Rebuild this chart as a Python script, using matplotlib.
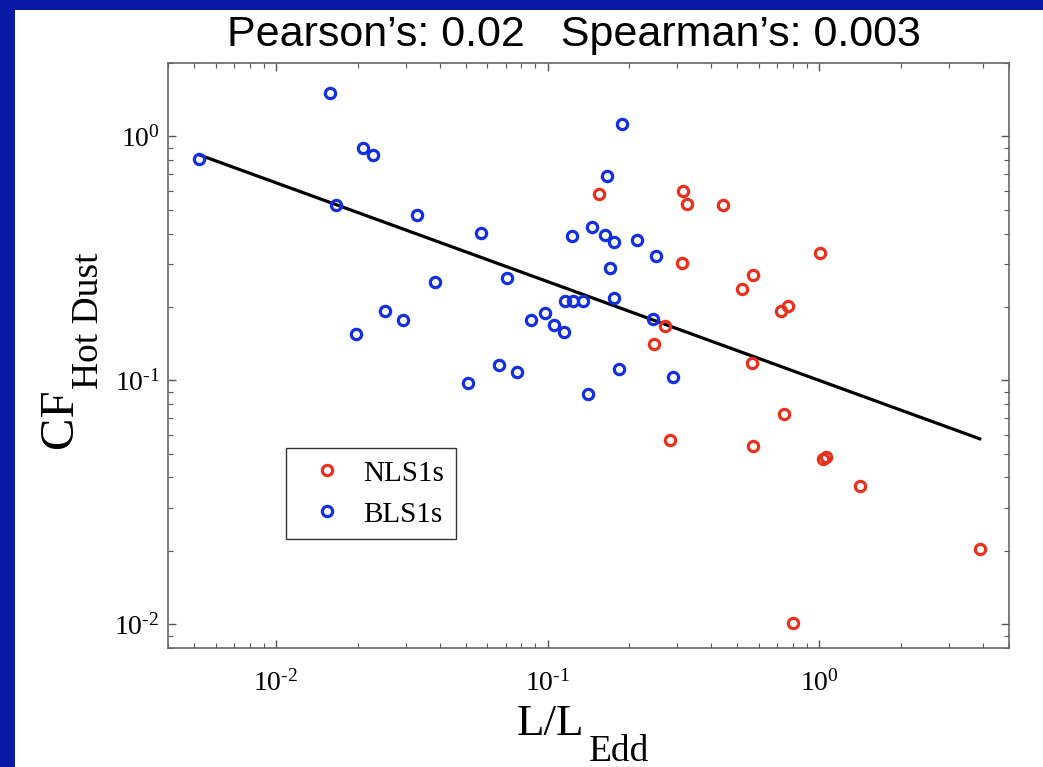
import matplotlib
matplotlib.use('Agg')
import matplotlib.pyplot as plt
from matplotlib.patches import Rectangle
from matplotlib.ticker import LogLocator, FuncFormatter, NullFormatter
import numpy as np

# L/L_Edd and CF for the two samples
bls1_x = [0.01583, 0.02089, 0.02280, 0.005212, 0.01656, 0.03304, 0.05706, 0.03862,
          0.07100, 0.02518, 0.02943, 0.01968, 0.08656, 0.09747, 0.1055, 0.1148,
          0.1155, 0.1244, 0.1354, 0.1229, 0.1462, 0.1623, 0.1752, 0.1694,
          0.1757, 0.1651, 0.1875, 0.2125, 0.2496, 0.2440, 0.05110, 0.06649,
          0.07730, 0.1405, 0.1831, 0.2901]
bls1_y = [1.500, 0.899, 0.836, 0.805, 0.5216, 0.4747, 0.4030, 0.2538,
          0.2619, 0.1930, 0.1767, 0.1554, 0.1767, 0.1882, 0.1680, 0.1578,
          0.2108, 0.2108, 0.2108, 0.3904, 0.4265, 0.3940, 0.3687, 0.2877,
          0.2179, 0.6902, 1.120, 0.3749, 0.3223, 0.1787, 0.0975, 0.1160,
          0.1085, 0.0879, 0.1109, 0.1032]

nls1_x = [0.1551, 0.3148, 0.3249, 0.4434, 1.006, 0.3129, 0.5692, 0.5212,
          0.7667, 0.7222, 0.2696, 0.2461, 0.5644, 0.7409, 0.2827, 0.5692,
          1.037, 1.055, 1.417, 3.917, 0.8018]
nls1_y = [0.5785, 0.5968, 0.5300, 0.5216, 0.3324, 0.3025, 0.2712, 0.2376,
          0.2010, 0.1918, 0.1670, 0.1409, 0.1182, 0.0730, 0.0571, 0.0538,
          0.04746, 0.04851, 0.03702, 0.02043, 0.01009]

# power-law fit: CF = fit_norm * (L/L_Edd)**fit_slope
fit_slope = -0.405
fit_norm = 0.1
fit_range = [0.0052, 3.9]

title_text = 'Pearson\u2019s: 0.02   Spearman\u2019s: 0.003'

red = '#e8301c'
blue = '#1230e0'
slide_blue = '#0a1aa6'

plt.rcParams['font.family'] = 'Liberation Serif'
plt.rcParams['mathtext.fontset'] = 'custom'
plt.rcParams['mathtext.rm'] = 'Liberation Serif'
plt.rcParams['mathtext.it'] = 'Liberation Serif:italic'
plt.rcParams['axes.unicode_minus'] = False

W, H = 1043, 767


def pow10(v, pos):
    e = int(round(np.log10(v)))
    if e < 0:
        return r'$10^{\text{-}%d}$' % (-e)
    return r'$10^{%d}$' % e


def px(x, y):
    # pixel position (from top left) -> figure fraction
    return x / W, 1 - y / H


fig = plt.figure(figsize=(W / 100, H / 100), dpi=100)
fig.patch.set_facecolor(slide_blue)
fig.patches.append(Rectangle((15 / W, 0), 1, 1 - 10 / H, transform=fig.transFigure,
                             facecolor='white', edgecolor='none', zorder=-10))

ax = fig.add_axes([168 / W, 1 - 648 / H, 841 / W, 585 / H])
ax.set_xscale('log')
ax.set_yscale('log')

fx = np.array(fit_range)
ax.plot(fx, fit_norm * fx**fit_slope, color='black', lw=2.3, zorder=2)

hb, = ax.plot(bls1_x, bls1_y, 'o', ms=7.4, mew=2.3, mfc='none', mec=blue, zorder=3)
hn, = ax.plot(nls1_x, nls1_y, 'o', ms=7.4, mew=2.3, mfc='none', mec=red, zorder=3)

ax.set_xlim(0.004, 5)
ax.set_ylim(0.008, 2)

for a in (ax.xaxis, ax.yaxis):
    a.set_major_locator(LogLocator(base=10))
    a.set_minor_locator(LogLocator(base=10, subs=np.arange(2, 10)))
    a.set_major_formatter(FuncFormatter(pow10))
    a.set_minor_formatter(NullFormatter())

ax.tick_params(which='both', direction='in', top=True, right=True, color='#555555')
ax.tick_params(which='major', length=6, width=1, labelsize=20)
ax.tick_params(which='minor', length=3.5, width=0.8)
ax.tick_params(axis='x', which='major', pad=16)
ax.tick_params(axis='y', which='major', pad=6)
for s in ax.spines.values():
    s.set_color('#666666')
    s.set_linewidth(1.2)

# axis labels with the deep subscripts of the original
fig.text(*px(517, 735), 'L/L', fontsize=32.5, ha='left', va='baseline')
fig.text(*px(589, 761), 'Edd', fontsize=27, ha='left', va='baseline')
fig.text(*px(72, 448), 'CF', fontsize=35, rotation=90, rotation_mode='anchor',
         ha='left', va='baseline')
fig.text(*px(98, 389), 'Hot Dust', fontsize=27, rotation=90, rotation_mode='anchor',
         ha='left', va='baseline')

leg = ax.legend([hn, hb], ['NLS1s', 'BLS1s'], loc='lower left',
                bbox_to_anchor=(0.140, 0.186), borderaxespad=0, fontsize=21,
                fancybox=False, framealpha=1, edgecolor='#333333',
                handlelength=2.0, handletextpad=0.25, labelspacing=0.5,
                borderpad=0.4, numpoints=1)
leg.get_frame().set_linewidth(1.0)

fig.text(*px(574, 46), title_text, ha='center', va='baseline',
         fontsize=31, family='Liberation Sans', color='black')

fig.savefig('out.png', dpi=100, facecolor=fig.get_facecolor())
